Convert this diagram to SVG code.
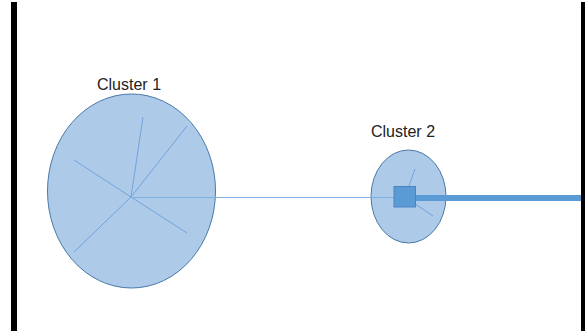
<svg xmlns="http://www.w3.org/2000/svg" width="585" height="334" viewBox="0 0 585 334">
  <style>
    .wall { fill: #000000; }
    .cluster { fill: #ADCAE8; stroke: #4A79A8; stroke-width: 1; }
    .spoke { stroke: #72A4DA; stroke-width: 1; fill: none; }
    .label { font-family: "Liberation Sans", Arial, sans-serif; font-size: 16px; fill: #222222; }
    .hub { fill: #5B9BD5; stroke: #4A85C0; stroke-width: 1; }
    .link-thin { stroke: #7FB0E0; stroke-width: 1; fill: none; }
    .link-thick { stroke: #5B9BD5; stroke-width: 6; fill: none; }
  </style>
  <rect width="585" height="334" fill="#FFFFFF"/>

  <!-- side walls -->
  <rect class="wall" x="11" y="2" width="6" height="329"/>
  <rect class="wall" x="581" y="2" width="4" height="329"/>

  <g id="cluster1">
    <ellipse class="cluster" cx="131.5" cy="191" rx="84" ry="97"/>
    <line class="spoke" x1="131" y1="197" x2="143" y2="117"/>
    <line class="spoke" x1="131" y1="197" x2="187" y2="126"/>
    <line class="spoke" x1="131" y1="197" x2="74" y2="160"/>
    <line class="spoke" x1="131" y1="197" x2="187" y2="233"/>
    <line class="spoke" x1="131" y1="197" x2="74" y2="252"/>
    <text class="label" x="97" y="90">Cluster 1</text>
  </g>

  <g id="cluster2">
    <ellipse class="cluster" cx="408.5" cy="196.5" rx="37.5" ry="46.5"/>
    <line class="spoke" x1="405" y1="197" x2="415" y2="169"/>
    <line class="spoke" x1="405" y1="197" x2="433" y2="216"/>
    <text class="label" x="371" y="137">Cluster 2</text>
  </g>

  <g id="connectors">
    <line class="link-thin" x1="131" y1="197.5" x2="394" y2="197.5"/>
    <line class="link-thick" x1="415" y1="198" x2="581" y2="198"/>
  </g>

  <g id="hub">
    <rect class="hub" x="394" y="186.5" width="21.5" height="20.5"/>
  </g>
</svg>
